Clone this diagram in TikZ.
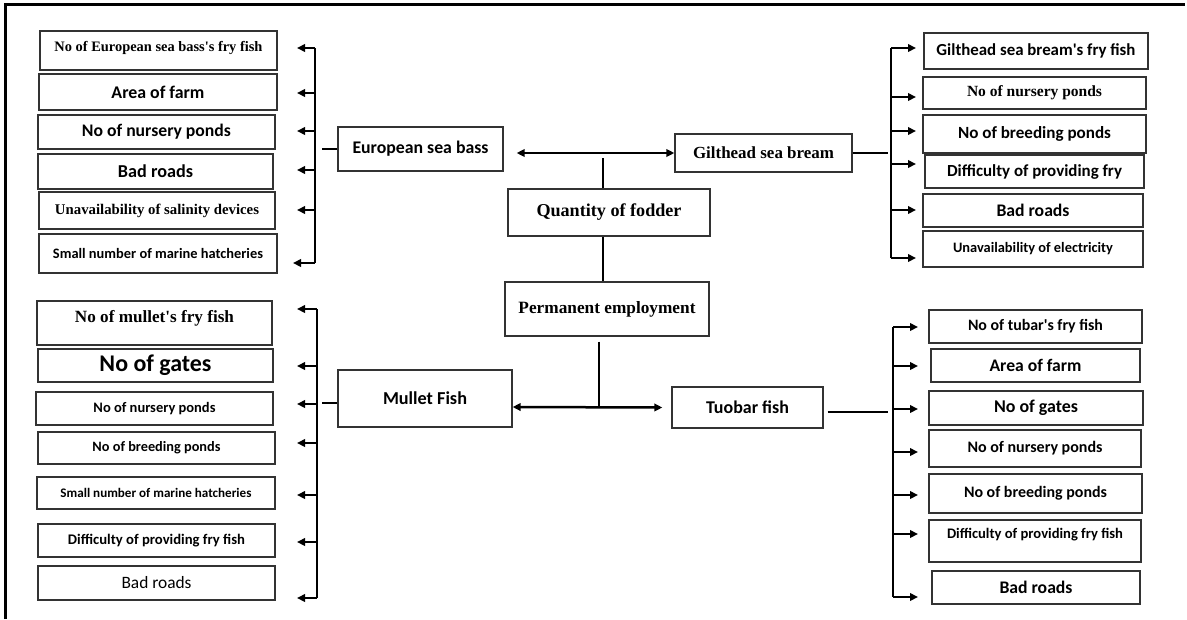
\documentclass[tikz,border=0pt]{standalone}
\usepackage{fontspec}
\setmainfont{Liberation Serif}
\setsansfont{Carlito}
\usepackage{graphicx}
\usetikzlibrary{arrows.meta,calc}
\newcommand\tx[3][0pt]{\raisebox{#1}[\height][\depth]{\resizebox{#2pt}{!}{#3}}}
\newcommand\rmb{\rmfamily\bfseries}
\newcommand\sfb{\sffamily\bfseries}
\newcommand\sfr{\sffamily\mdseries}
\newcommand\ap{\textquotesingle}
\tikzset{
  fbox/.style={draw=black!80, line width=1.3pt, inner sep=0pt, rectangle},
  conn/.style={line width=2.5pt},
  arr/.style={conn, -{Triangle[length=8pt,width=7.5pt]}},
  darr/.style={conn, {Triangle[length=8pt,width=7.5pt]}-{Triangle[length=8pt,width=7.5pt]}},
}
\newcommand\la[4]{\draw[arr] ($(#1.east -| #3)+(0,#2)$) -- ($(#1.east -| #4)+(0,#2)$);}
\newcommand\ra[4]{\draw[arr] ($(#1.west -| #3)+(0,#2)$) -- ($(#1.west -| #4)+(0,#2)$);}
\begin{document}
\begin{tikzpicture}[x=1pt,y=-1pt]
\useasboundingbox (0,0) rectangle (1187,619);
% frame
\draw[line width=2.6pt] (5.5,619) -- (5.5,4.5) -- (1185,4.5);

% ---------- left top ----------
\node[fbox, minimum width=237pt, minimum height=39pt] (L1) at (158.5,50.5) {\tx[2.5pt]{208}{\rmb No of European sea bass\ap s fry fish}};
\node[fbox, minimum width=238pt, minimum height=36pt] (L2) at (158,92) {\tx{93}{\sfb Area of farm}};
\node[fbox, minimum width=237pt, minimum height=34pt] (L3) at (156.5,132) {\tx{149}{\sfb No of nursery ponds}};
\node[fbox, minimum width=235pt, minimum height=35pt] (L4) at (155.5,171.5) {\tx{75}{\sfb Bad roads}};
\node[fbox, minimum width=236pt, minimum height=37pt] (L5) at (157,210.5) {\tx{204}{\rmb Unavailability of salinity devices}};
\node[fbox, minimum width=238pt, minimum height=39pt] (L6) at (158,253.5) {\tx{210}{\sfb Small number of marine hatcheries}};
\coordinate (spLTa) at (315,48);
\coordinate (spLTb) at (315,263);
\coordinate (tipLT) at (297,0);
\coordinate (tipLTb) at (293,0);
\draw[conn] (spLTa) -- (spLTb);
\la{L1}{-2.5}{spLTa}{tipLT}
\la{L2}{1}{spLTa}{tipLT}
\la{L3}{-1}{spLTa}{tipLT}
\la{L4}{-1.5}{spLTa}{tipLT}
\la{L5}{-0.5}{spLTa}{tipLT}
\la{L6}{9.5}{spLTa}{tipLTb}

% ---------- centre ----------
\node[fbox, minimum width=165pt, minimum height=44pt] (ESB) at (420.5,149) {\tx{136}{\sfb European sea bass}};
\node[fbox, minimum width=177pt, minimum height=38pt] (GSB) at (763.5,153) {\tx{141}{\rmb Gilthead sea bream}};
\node[fbox, minimum width=202pt, minimum height=47pt] (Qty) at (609,212.5) {\tx{145}{\rmb Quantity of fodder}};
\node[fbox, minimum width=204pt, minimum height=54pt] (Perm) at (607,309) {\tx{177}{\rmb Permanent employment}};
\node[fbox, minimum width=174pt, minimum height=57pt] (Mul) at (425,398.5) {\tx{84}{\sfb Mullet Fish}};
\node[fbox, minimum width=151pt, minimum height=41pt] (Tuo) at (747.5,407.5) {\tx{83}{\sfb Tuobar fish}};

\draw[conn] (ESB.west) -- ++(-15,0);
\draw[darr] ($(ESB.east)+(13,4)$) -- (GSB.west);
\draw[conn] ($(Qty.north)+(-6,0)$) -- ++(0,-30);
\draw[conn] ($(Qty.south)+(-6,0)$) -- ($(Perm.north)+(-4,0)$);
\draw[conn] ($(Perm.south)+(-8,5)$) -- ++(0,66);
\draw[darr] ($(Mul.east)+(0,8.5)$) -- ($(Tuo.west)+(-9,0)$);
\draw[conn] ($(Mul.west)+(0,4.5)$) -- ++(-15,0);
\draw[conn] (GSB.east) -- ++(35,0);
\draw[conn] ($(Tuo.east)+(4,4.5)$) -- ++(60,0);

% ---------- left bottom ----------
\node[fbox, minimum width=235pt, minimum height=44pt] (B1) at (154.5,323) {\tx[5pt]{159}{\rmb No of mullet\ap s fry fish}};
\node[fbox, minimum width=235pt, minimum height=33pt] (B2) at (155.5,365.5) {\tx{112}{\sfb No of gates}};
\node[fbox, minimum width=237pt, minimum height=33pt] (B3) at (154.5,408.5) {\tx{122}{\sfb No of nursery ponds}};
\node[fbox, minimum width=237pt, minimum height=32pt] (B4) at (156.5,448) {\tx{128}{\sfb No of breeding ponds}};
\node[fbox, minimum width=238pt, minimum height=32pt] (B5) at (156,493) {\tx{191}{\sfb Small number of marine hatcheries}};
\node[fbox, minimum width=237pt, minimum height=33pt] (B6) at (156.5,540.5) {\tx{177}{\sfb Difficulty of providing fry fish}};
\node[fbox, minimum width=237pt, minimum height=34pt] (B7) at (156.5,583) {\tx{70}{\sfr Bad roads}};
\coordinate (spLBa) at (317,309);
\coordinate (spLBb) at (317,598);
\coordinate (tipLB) at (297,0);
\draw[conn] (spLBa) -- (spLBb);
\la{B1}{-14}{spLBa}{tipLB}
\la{B2}{0.5}{spLBa}{tipLB}
\la{B3}{-4.5}{spLBa}{tipLB}
\la{B4}{-5}{spLBa}{tipLB}
\la{B5}{2}{spLBa}{tipLB}
\la{B6}{1.5}{spLBa}{tipLB}
\la{B7}{15}{spLBa}{tipLB}

% ---------- right top ----------
\node[fbox, minimum width=224pt, minimum height=36pt] (R1) at (1036,51) {\tx{199}{\sfb Gilthead sea bream\ap s fry fish}};
\node[fbox, minimum width=223pt, minimum height=32pt] (R2) at (1034.5,93) {\tx{135}{\rmb No of nursery ponds}};
\node[fbox, minimum width=223pt, minimum height=38pt] (R3) at (1034.5,134) {\tx{153}{\sfb No of breeding ponds}};
\node[fbox, minimum width=219pt, minimum height=33pt] (R4) at (1034.5,171.5) {\tx{175}{\sfb Difficulty of providing fry}};
\node[fbox, minimum width=220pt, minimum height=33pt] (R5) at (1033,210.5) {\tx{73}{\sfb Bad roads}};
\node[fbox, minimum width=220pt, minimum height=36pt] (R6) at (1033,249) {\tx{160}{\sfb Unavailability of electricity}};
\coordinate (spRTa) at (891,48);
\coordinate (spRTb) at (891,258);
\coordinate (tipRT) at (916,0);
\draw[conn] (spRTa) -- (spRTb);
\ra{R1}{-3}{spRTa}{tipRT}
\ra{R2}{4}{spRTa}{tipRT}
\ra{R3}{-3}{spRTa}{tipRT}
\ra{R4}{-7.5}{spRTa}{tipRT}
\ra{R5}{-0.5}{spRTa}{tipRT}
\ra{R6}{9}{spRTa}{tipRT}

% ---------- right bottom ----------
\node[fbox, minimum width=213pt, minimum height=33pt] (T1) at (1035.5,326.5) {\tx{135}{\sfb No of tubar\ap s fry fish}};
\node[fbox, minimum width=209pt, minimum height=33pt] (T2) at (1035.5,365.5) {\tx{92}{\sfb Area of farm}};
\node[fbox, minimum width=214pt, minimum height=34pt] (T3) at (1036,408) {\tx{84}{\sfb No of gates}};
\node[fbox, minimum width=212pt, minimum height=37pt] (T4) at (1035,448.5) {\tx{135}{\sfb No of nursery ponds}};
\node[fbox, minimum width=213pt, minimum height=39pt] (T5) at (1035.5,493.5) {\tx{143}{\sfb No of breeding ponds}};
\node[fbox, minimum width=212pt, minimum height=42pt] (T6) at (1035,541) {\tx[6pt]{176}{\sfb Difficulty of providing fry fish}};
\node[fbox, minimum width=208pt, minimum height=33pt] (T7) at (1036,587.5) {\tx{73}{\sfb Bad roads}};
\coordinate (spRBa) at (893,327);
\coordinate (spRBb) at (893,597);
\coordinate (tipRB) at (918,0);
\draw[conn] (spRBa) -- (spRBb);
\ra{T1}{0.5}{spRBa}{tipRB}
\ra{T2}{0.5}{spRBa}{tipRB}
\ra{T3}{1}{spRBa}{tipRB}
\ra{T4}{3.5}{spRBa}{tipRB}
\ra{T5}{1.5}{spRBa}{tipRB}
\ra{T6}{-7}{spRBa}{tipRB}
\ra{T7}{9.5}{spRBa}{tipRB}
\end{tikzpicture}
\end{document}
